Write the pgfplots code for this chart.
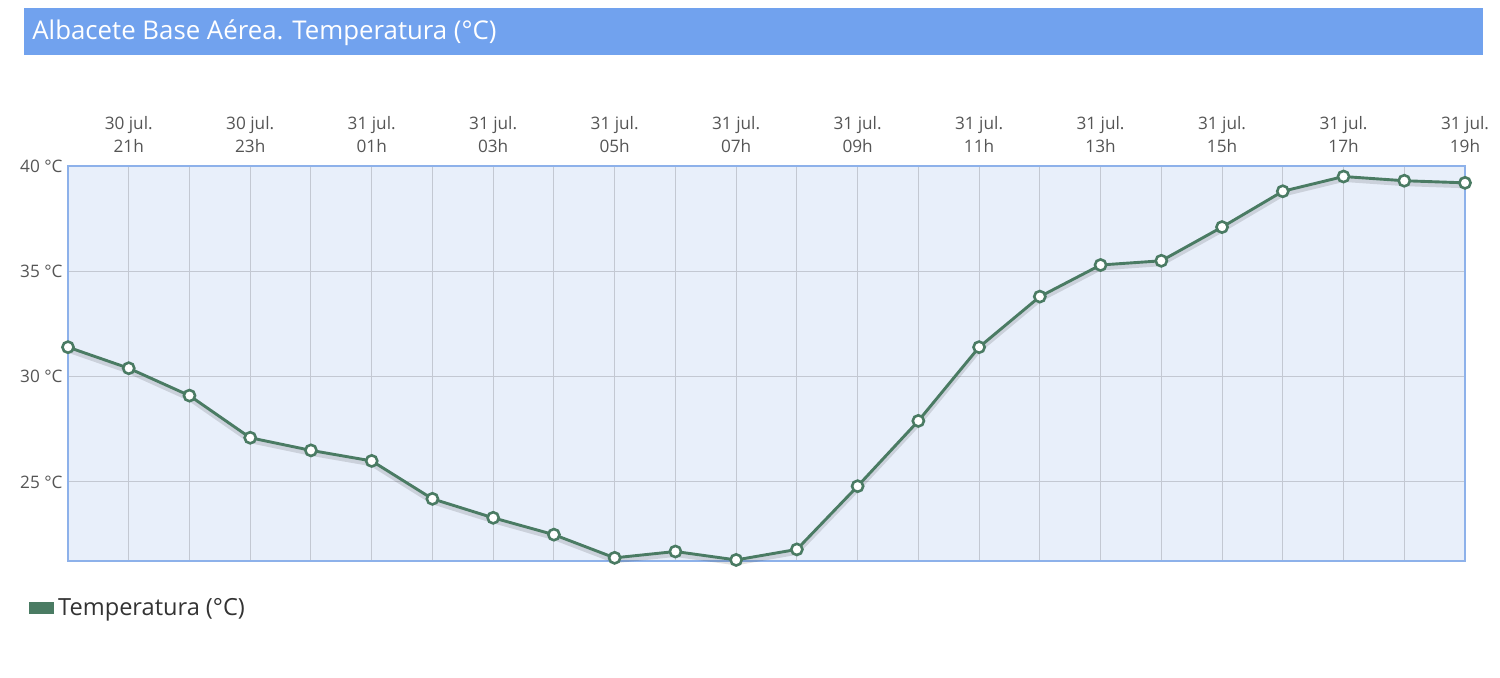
\documentclass[border=0pt]{standalone}
\usepackage{pgfplots}
\pgfplotsset{compat=1.18}
\usepackage{pgfplotstable}
\usepackage{fontspec}
\setmainfont{Open Sans}
\definecolor{titlebar}{HTML}{71A2EE}
\definecolor{plotbg}{HTML}{E8EFFA}
\definecolor{bordc}{HTML}{8DB1EA}
\definecolor{gridc}{HTML}{C3C8D2}
\definecolor{linec}{HTML}{4A7B63}
\definecolor{labelc}{HTML}{555555}
\definecolor{legc}{HTML}{333333}
\pgfplotstableread{
x y
0 31.4
1 30.4
2 29.1
3 27.1
4 26.5
5 26.0
6 24.2
7 23.3
8 22.5
9 21.4
10 21.7
11 21.3
12 21.8
13 24.8
14 27.9
15 31.4
16 33.8
17 35.3
18 35.5
19 37.1
20 38.8
21 39.5
22 39.3
23 39.2
}\temps
\begin{document}
\begin{tikzpicture}[x=1pt,y=1pt]
\useasboundingbox (0,0) rectangle (750,339);
\fill[titlebar] (12,311.5) rectangle (741.5,335);
\node[anchor=west, text=white, font=\fontsize{12.9}{15}\selectfont, inner sep=0] at (16,322.5) {Albacete Base Aérea. Temperatura (°C)};
\begin{axis}[
  at={(34pt,58.5pt)}, anchor=south west,
  scale only axis, width=698.5pt, height=197.5pt,
  xmin=0, xmax=23, ymin=21.25, ymax=40,
  axis background/.style={fill=plotbg},
  axis line style={draw=bordc, line width=1.3pt},
  xtick={1,3,...,23},
  minor xtick={0,...,23},
  xticklabels={{30 jul.\\21h},{30 jul.\\23h},{31 jul.\\01h},{31 jul.\\03h},{31 jul.\\05h},{31 jul.\\07h},{31 jul.\\09h},{31 jul.\\11h},{31 jul.\\13h},{31 jul.\\15h},{31 jul.\\17h},{31 jul.\\19h}},
  xticklabel pos=upper,
  xticklabel style={align=center, font=\fontsize{8.6}{11.5}\selectfont, text=labelc, inner sep=1pt, yshift=5.5pt},
  ytick={25,30,35,40},
  yticklabels={25 °C,30 °C,35 °C,40 °C},
  yticklabel style={font=\fontsize{8.6}{9}\selectfont, text=labelc, inner sep=1pt, xshift=-1.5pt},
  major tick length=0pt, minor tick length=0pt,
  grid=both,
  major grid style={draw=gridc, line width=0.5pt},
  minor grid style={draw=gridc, line width=0.5pt},
  clip=false,
  legend style={at={(-0.028,-0.119)}, anchor=west, draw=none, fill=none,
    font=\fontsize{11.8}{13}\selectfont, text=legc, inner sep=0pt},
  legend image code/.code={\fill[linec] (0pt,-2.3pt) rectangle (11pt,2.3pt);},
  legend cell align=left,
]
\addplot[draw=black, opacity=0.12, line width=2.4pt, forget plot, transform canvas={yshift=-1.5pt}] table {\temps};
\addplot[draw=linec, line width=1.45pt, mark=*, mark size=2.8pt,
  mark options={fill=white, draw=linec, line width=1.3pt}] table {\temps};
\addlegendentry{Temperatura (°C)}
\end{axis}
\end{tikzpicture}
\end{document}
